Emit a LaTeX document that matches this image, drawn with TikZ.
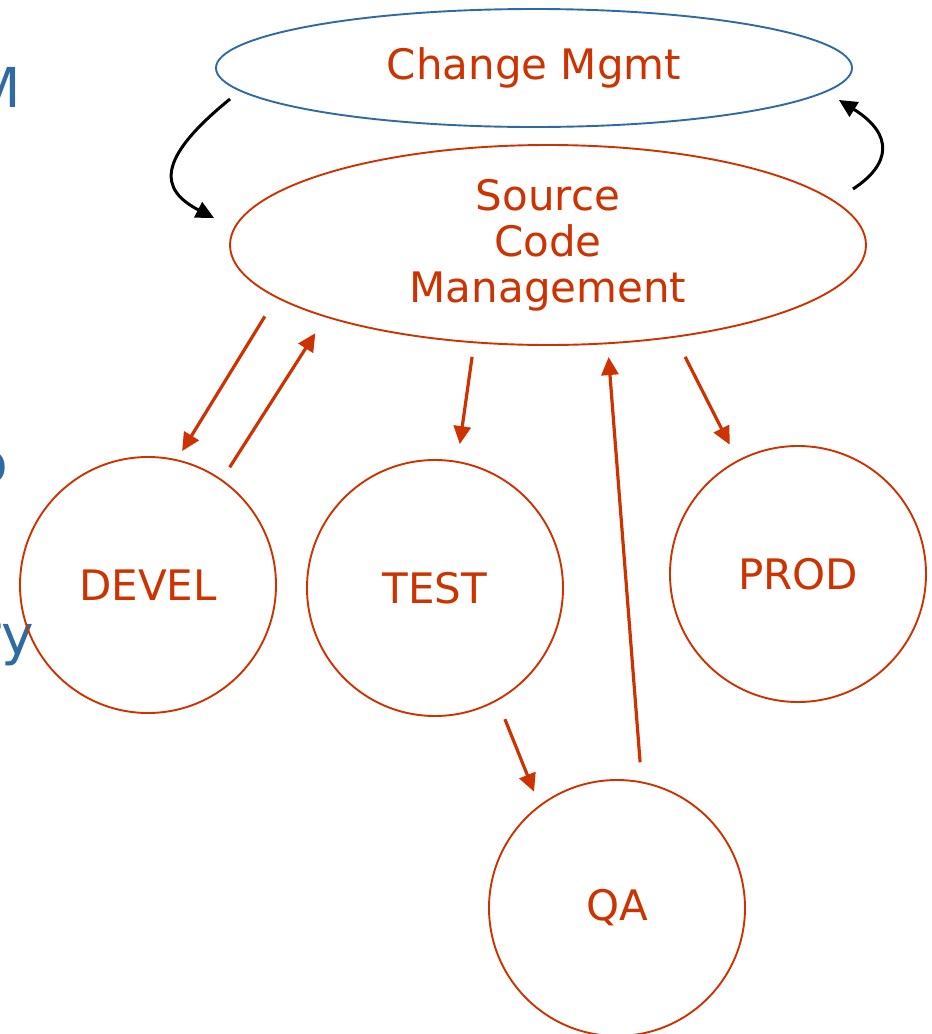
\documentclass[tikz,border=0pt]{standalone}
\usepackage{fontspec}
\setmainfont{DejaVu Sans}
\usetikzlibrary{shapes.geometric,arrows.meta}

\definecolor{scmred}{RGB}{204,51,0}
\definecolor{scmblue}{RGB}{47,106,163}

\tikzset{
  repo/.style={ellipse, draw=scmred, line width=1.9pt, inner sep=0pt,
    text=scmred, align=center, font=\fontsize{42}{46}\selectfont},
  stage/.style={circle, draw=scmred, line width=1.9pt, inner sep=0pt,
    minimum size=256pt, text=scmred, font=\fontsize{42}{46}\selectfont},
  flowarrow/.style={draw=scmred, line width=3.2pt,
    -{Triangle[length=18pt,width=17pt]}},
  syncarrow/.style={draw=black, line width=3pt,
    -{Triangle[length=18pt,width=17pt]}},
  bullet/.style={anchor=base east, inner sep=0pt, text=scmblue,
    font=\fontsize{55}{60}\selectfont}
}

\begin{document}
\begin{tikzpicture}[x=1pt, y=-1pt]
  \useasboundingbox (0,0) rectangle (932,1034);

  % Slide text behind the chart
  \node[bullet] (lineA) at (21,107) {M};
  \node[bullet] (lineB) at (8,482) {o};
  \node[bullet] (lineC) at (34,654) {ry};

  % Repositories
  \node[repo, draw=scmblue, minimum width=636pt, minimum height=118pt] (chg) at (534,68) {Change Mgmt};
  \node[repo, minimum width=636pt, minimum height=200pt] (scm) at (548,245) {Source\\Code\\Management};

  % Environments
  \node[stage] (devel) at (148,585) {DEVEL};
  \node[stage] (test) at (435,588) {TEST};
  \node[stage] (prod) at (798,574) {PROD};
  \node[stage] (qa) at (617,908) {QA};

  % Change Mgmt <-> SCM
  \draw[syncarrow] ([xshift=15pt,yshift=-31pt]chg.west) .. controls (155,160) and (160,190) .. ([xshift=-15pt,yshift=27pt]scm.west);
  \draw[syncarrow] ([xshift=-14pt,yshift=56pt]scm.east) .. controls (890,165) and (895,135) .. ([xshift=-14pt,yshift=-32pt]chg.east);

  % SCM <-> environments
  \draw[flowarrow, shorten <=21.8pt, shorten >=9.8pt] (scm.191.6) -- (devel.77.1);
  \draw[flowarrow, shorten <=14.3pt, shorten >=18.8pt] (devel.55.2) -- (scm.198.2);
  \draw[flowarrow, shorten <=13.8pt, shorten >=17pt] (scm.233.2) -- (test.80.4);
  \draw[flowarrow, shorten <=19.8pt, shorten >=14.3pt] (test.299.4) -- (qa.127.4);
  \draw[flowarrow, shorten <=19.2pt, shorten >=12.9pt] (qa.79.5) -- (scm.301.9);
  \draw[flowarrow, shorten <=21.6pt, shorten >=17.4pt] (scm.324.3) -- (prod.118.65);
\end{tikzpicture}
\end{document}
